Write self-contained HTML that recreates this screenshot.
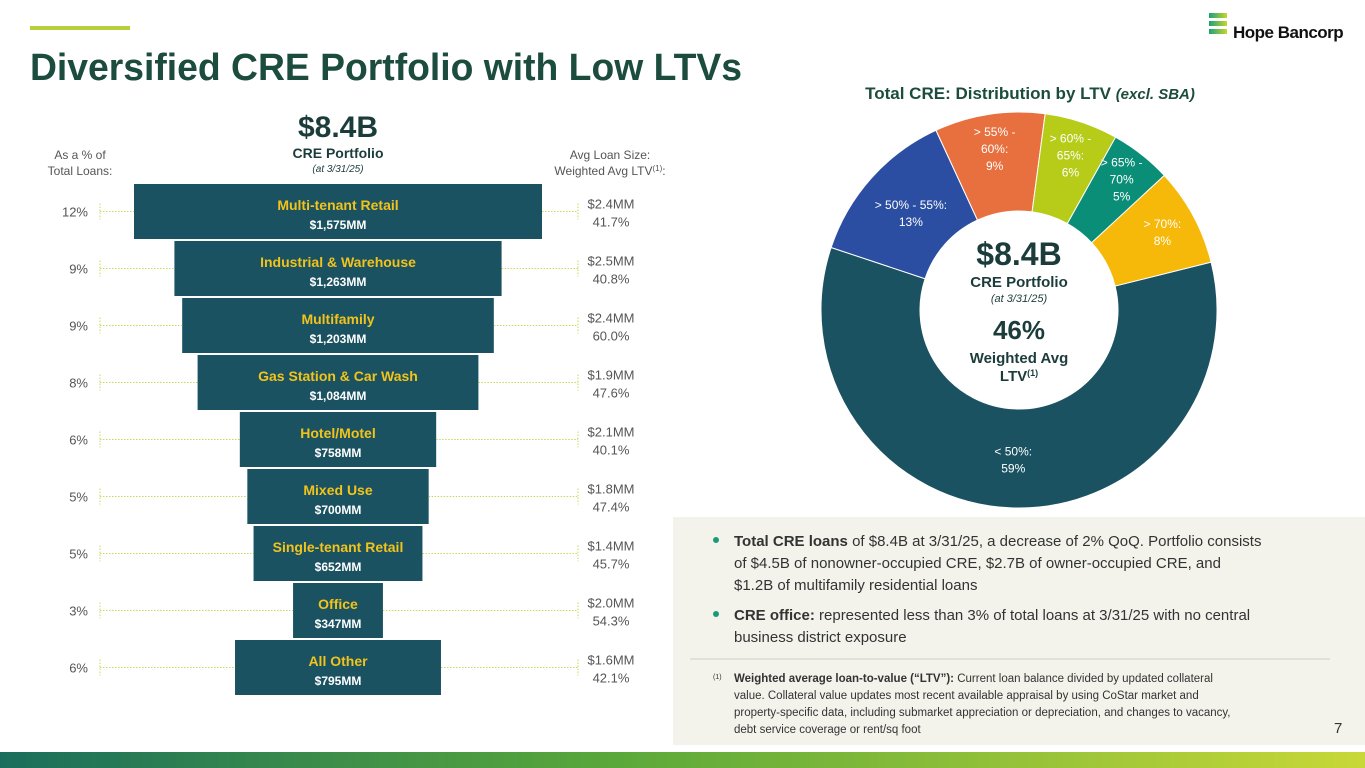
<!DOCTYPE html>
<html><head><meta charset="utf-8"><style>
body{margin:0;width:1365px;height:768px;overflow:hidden;background:#fff;font-family:"Liberation Sans",sans-serif}
svg{display:block}
</style></head><body>
<svg width="1365" height="768" viewBox="0 0 1365 768">
<defs><linearGradient id="bot" x1="0" x2="1"><stop offset="0" stop-color="#1a6e5c"/><stop offset="0.45" stop-color="#5aa83a"/><stop offset="1" stop-color="#c8d838"/></linearGradient>
<linearGradient id="lg" x1="0" x2="1"><stop offset="0" stop-color="#1aa27a"/><stop offset="1" stop-color="#c6d62a"/></linearGradient></defs>
<rect x="30" y="26" width="100" height="4" fill="#b8cf3a"/>
<text x="30" y="80" font-size="38" font-weight="bold" fill="#1c4c3e" textLength="712" lengthAdjust="spacingAndGlyphs">Diversified CRE Portfolio with Low LTVs</text>
<g>
<path d="M1209 13h18v5h-18zM1209 21h18v5h-18zM1209 29h18v5h-18z" fill="url(#lg)"/>
<text x="1233" y="38" font-size="17" font-weight="bold" fill="#111" letter-spacing="-0.5">Hope Bancorp</text></g>
<text x="338" y="137" text-anchor="middle" font-size="30" font-weight="bold" fill="#1c3c3c">$8.4B</text>
<text x="338" y="158" text-anchor="middle" font-size="14" font-weight="bold" fill="#1c3c3c">CRE Portfolio</text>
<text x="338" y="172" text-anchor="middle" font-size="10" font-style="italic" fill="#1c3c3c">(at 3/31/25)</text>
<text x="80" y="159" text-anchor="middle" font-size="12" fill="#555">As a % of</text>
<text x="80" y="175" text-anchor="middle" font-size="12" fill="#555">Total Loans:</text>
<text x="610" y="159" text-anchor="middle" font-size="12" fill="#555">Avg Loan Size:</text>
<text x="610" y="175" text-anchor="middle" font-size="12" fill="#555">Weighted Avg LTV<tspan font-size="8" dy="-4">(1)</tspan><tspan dy="4">:</tspan></text>
<g id="funnel"></g>
<text x="1030" y="99" text-anchor="middle" font-size="17" font-weight="bold" fill="#1c4c3e">Total CRE: Distribution by LTV <tspan font-style="italic" font-size="15">(excl. SBA)</tspan></text>
<g id="donut"></g>
<g fill="#1c3c3c" text-anchor="middle" font-weight="bold">
<text x="1019" y="265" font-size="32">$8.4B</text>
<text x="1019" y="287" font-size="15">CRE Portfolio</text>
<text x="1019" y="302" font-size="11" font-style="italic" font-weight="normal">(at 3/31/25)</text>
<text x="1019" y="339" font-size="26">46%</text>
<text x="1019" y="363" font-size="15">Weighted Avg</text>
<text x="1019" y="381" font-size="15">LTV<tspan font-size="9" dy="-5">(1)</tspan></text></g>
<rect x="673" y="517" width="692" height="228" fill="#f3f3ec"/>
<g font-size="15" fill="#333">
<circle cx="716" cy="540" r="3" fill="#1a9a7a"/>
<text x="734" y="546"><tspan font-weight="bold">Total CRE loans</tspan> of $8.4B at 3/31/25, a decrease of 2% QoQ. Portfolio consists</text>
<text x="734" y="568">of $4.5B of nonowner-occupied CRE, $2.7B of owner-occupied CRE, and</text>
<text x="734" y="590">$1.2B of multifamily residential loans</text>
<circle cx="716" cy="614" r="3" fill="#1a9a7a"/>
<text x="734" y="620"><tspan font-weight="bold">CRE office:</tspan> represented less than 3% of total loans at 3/31/25 with no central</text>
<text x="734" y="642">business district exposure</text></g>
<line x1="690" y1="659" x2="1330" y2="659" stroke="#ccc" stroke-width="1"/>
<g font-size="11.5" fill="#333">
<text x="713" y="679" font-size="7">(1)</text>
<text x="734" y="682"><tspan font-weight="bold">Weighted average loan-to-value (“LTV”):</tspan>  Current loan balance divided by updated collateral</text>
<text x="734" y="699">value. Collateral value updates most recent available appraisal by using CoStar market and</text>
<text x="734" y="716">property-specific data, including submarket appreciation or depreciation, and changes to vacancy,</text>
<text x="734" y="733">debt service coverage or rent/sq foot</text></g>
<text x="1334" y="733" font-size="15" fill="#333">7</text>
<rect x="0" y="752" width="1365" height="16" fill="url(#bot)"/>
</svg>
<script>
const categories=["Multi-tenant Retail","Industrial & Warehouse","Multifamily","Gas Station & Car Wash","Hotel/Motel","Mixed Use","Single-tenant Retail","Office","All Other"];
const balancesMM=[1575,1263,1203,1084,758,700,652,347,795];
const pctTotal=["12%","9%","9%","8%","6%","5%","5%","3%","6%"];
const avgLoan=["$2.4MM","$2.5MM","$2.4MM","$1.9MM","$2.1MM","$1.8MM","$1.4MM","$2.0MM","$1.6MM"];
const wLTV=["41.7%","40.8%","60.0%","47.6%","40.1%","47.4%","45.7%","54.3%","42.1%"];
const ltvLabels=[["< 50%:","59%"],["> 50% - 55%:","13%"],["> 55% -","60%:","9%"],["> 60% -","65%:","6%"],["> 65% -","70%","5%"],["> 70%:","8%"]];
const ltvValues=[59,13,9,6,5,8];
const ltvColors=["#1b5262","#2b4ea2","#e8703f","#b6cc19","#0b8e78","#f6b90a"];
const NS="http://www.w3.org/2000/svg";
function mk(t,a,p){const e=document.createElementNS(NS,t);for(const k in a)e.setAttribute(k,a[k]);p.appendChild(e);return e;}
const f=document.getElementById('funnel');
const cx=338,top0=184,pitch=57,bh=55,scale=408/1575;
const wOf=v=>v*scale;
categories.forEach((c,i)=>{
 const y=top0+i*pitch,w=wOf(balancesMM[i]),x=cx-w/2,my=y+bh/2;
 const r=mk('rect',{x:x,y:y,width:w,height:bh,fill:'#1b5262'},f);
 
 
 mk('line',{x1:100,y1:my,x2:x,y2:my,stroke:'#c9d85a','stroke-dasharray':'1.5 1.5'},f);
 mk('line',{x1:100,y1:my-8,x2:100,y2:my+8,stroke:'#c9d85a','stroke-dasharray':'1.5 1.5'},f);
 mk('line',{x1:x+w,y1:my,x2:578,y2:my,stroke:'#c9d85a','stroke-dasharray':'1.5 1.5'},f);
 mk('line',{x1:578,y1:my-8,x2:578,y2:my+8,stroke:'#c9d85a','stroke-dasharray':'1.5 1.5'},f);
 const t1=mk('text',{x:cx,y:y+26,'text-anchor':'middle','font-size':14,'font-weight':'bold',fill:'#f2c31a'},f);t1.textContent=c;
 
 
 const t2=mk('text',{x:cx,y:y+45,'text-anchor':'middle','font-size':12,'font-weight':'bold',fill:'#fff'},f);t2.textContent='$'+balancesMM[i].toLocaleString('en-US')+'MM';
 const p=mk('text',{x:88,y:my+5,'text-anchor':'end','font-size':13,fill:'#555'},f);p.textContent=pctTotal[i];
 
 
 const a=mk('text',{x:611,y:my-3,'text-anchor':'middle','font-size':13,fill:'#555'},f);a.textContent=avgLoan[i];
 
 
 const b=mk('text',{x:611,y:my+15,'text-anchor':'middle','font-size':13,fill:'#555'},f);b.textContent=wLTV[i];
});
const d=document.getElementById('donut');
const dcx=1019,dcy=310,R=198,r0=99;
const total=ltvValues.reduce((s,v)=>s+v,0);
let ang=76;
const pt=(a,rad)=>[dcx+rad*Math.sin(a*Math.PI/180),dcy-rad*Math.cos(a*Math.PI/180)];
const labelR=[150,145,163,163,166,163];
ltvValues.forEach((v,i)=>{
 const sweep=v/total*360,a0=ang,a1=ang+sweep,lg=sweep>180?1:0;
 const [x0,y0]=pt(a0,R),[x1,y1]=pt(a1,R),[x2,y2]=pt(a1,r0),[x3,y3]=pt(a0,r0);
 const s=mk('path',{d:`M${x0} ${y0}A${R} ${R} 0 ${lg} 1 ${x1} ${y1}L${x2} ${y2}A${r0} ${r0} 0 ${lg} 0 ${x3} ${y3}Z`,fill:ltvColors[i],stroke:'#fff','stroke-width':1},d);
 
 
 const mid=(a0+a1)/2,rr=labelR[i];
 const [lx,ly]=pt(mid,rr),L=ltvLabels[i],n=L.length;
 L.forEach((ln,j)=>{const t=mk('text',{x:lx,y:ly+(j-(n-1)/2)*17+4,'text-anchor':'middle','font-size':12,fill:'#fff'},d);t.textContent=ln;
  
  });
 ang=a1;
});
mk('circle',{cx:dcx,cy:dcy,r:r0,fill:'#fff'},d);
</script>
</body></html>
